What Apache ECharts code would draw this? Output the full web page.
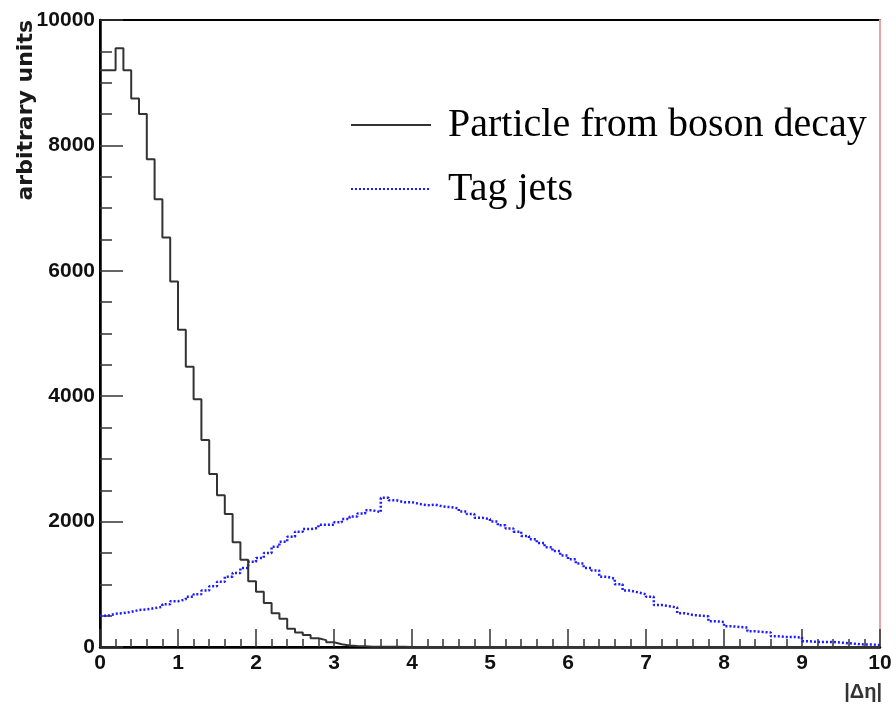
<!DOCTYPE html>
<html>
<head>
<meta charset="utf-8">
<script src="https://cdn.jsdelivr.net/npm/echarts@6/dist/echarts.min.js"></script>
<style>html,body{margin:0;padding:0;background:#fff}#c{width:896px;height:704px}</style>
</head>
<body>
<div id="c"></div>
<script>
// Histogram: 100 bins of width 0.1 over |Δη| from 0 to 10
const binStart = 0;
const binWidth = 0.1;
const seriesNames = ['Particle from boson decay', 'Tag jets'];
const xTickLabels = ['0','1','2','3','4','5','6','7','8','9','10'];
const yTickLabels = ['0','2000','4000','6000','8000','10000'];

const bosonDecay = [
  9200, 9200, 9550, 9200, 8750, 8500, 7780, 7140, 6530, 5830,
  5060, 4470, 3950, 3300, 2760, 2420, 2120, 1670, 1390, 1050,
  880, 700, 540, 450, 290, 230, 190, 140, 110, 75,
  45, 25, 15, 10, 5, 4, 3, 2, 2, 1,
  1, 1, 0, 0, 0, 0, 0, 0, 0, 0,
  0, 0, 0, 0, 0, 0, 0, 0, 0, 0,
  0, 0, 0, 0, 0, 0, 0, 0, 0, 0,
  0, 0, 0, 0, 0, 0, 0, 0, 0, 0,
  0, 0, 0, 0, 0, 0, 0, 0, 0, 0,
  0, 0, 0, 0, 0, 0, 0, 0, 0, 0
];

const tagJets = [
  500, 530, 540, 560, 590, 600, 620, 640, 680, 730,
  760, 800, 840, 900, 970, 1040, 1120, 1180, 1260, 1360,
  1420, 1500, 1600, 1680, 1760, 1840, 1880, 1900, 1950, 1950,
  1990, 2040, 2080, 2130, 2180, 2150, 2380, 2340, 2310, 2310,
  2280, 2260, 2270, 2240, 2230, 2210, 2160, 2120, 2060, 2040,
  2000, 1940, 1890, 1840, 1770, 1720, 1660, 1590, 1530, 1460,
  1400, 1330, 1260, 1220, 1120, 1090, 1000, 900, 870, 840,
  800, 670, 650, 630, 540, 510, 500, 490, 410, 400,
  330, 320, 310, 250, 240, 230, 170, 160, 160, 150,
  90, 80, 80, 80, 70, 60, 50, 40, 40, 30
];

function toSteps(vals) {
  const pts = vals.map((v, i) => [+(binStart + i * binWidth).toFixed(2), v]);
  pts.push([+(binStart + vals.length * binWidth).toFixed(2), vals[vals.length - 1]]);
  return pts;
}

const labelFont = { fontFamily: 'Liberation Sans, Arial, sans-serif', fontWeight: 'bold', fontSize: 21, color: '#111' };

const chart = echarts.init(document.getElementById('c'), null, { renderer: 'canvas' });
chart.setOption({
  animation: false,
  backgroundColor: '#fff',
  grid: { left: 100, right: 16, top: 20, bottom: 57, containLabel: false, show: true, borderColor: '#000', borderWidth: 2, backgroundColor: 'transparent' },
  legend: {
    orient: 'vertical',
    left: 345,
    top: 100,
    itemWidth: 80,
    itemHeight: 14,
    itemGap: 24,
    data: seriesNames,
    itemStyle: { opacity: 0 },
    textStyle: { fontFamily: 'Liberation Serif, Times New Roman, serif', fontSize: 40, color: '#000', lineHeight: 40, padding: [0, 0, 0, 12] }
  },
  xAxis: [{
    type: 'value', min: 0, max: 10, interval: 1,
    axisLine: { show: true, onZero: false, lineStyle: { color: '#000', width: 2.5 } },
    axisTick: { show: true, inside: true, length: 18, lineStyle: { color: '#333', width: 1.5 } },
    minorTick: { show: true, splitNumber: 5, length: 8, lineStyle: { color: '#333', width: 1.5 } },
    splitLine: { show: false },
    axisLabel: Object.assign({ margin: 6, formatter: (v) => xTickLabels[Math.round(v)] ?? '' }, labelFont)
  }],
  yAxis: [{
    type: 'value', min: 0, max: 10000, interval: 2000,
    axisLine: { show: true, onZero: false, lineStyle: { color: '#000', width: 2.5 } },
    axisTick: { show: true, inside: true, length: 23, lineStyle: { color: '#333', width: 1.5 } },
    minorTick: { show: true, splitNumber: 4, length: 12, lineStyle: { color: '#333', width: 1.5 } },
    splitLine: { show: false },
    axisLabel: Object.assign({ margin: 5, formatter: (v) => yTickLabels[Math.round(v / 2000)] ?? '' }, labelFont)
  }, {
    type: 'value', min: 0, max: 10000, position: 'right',
    axisLine: { show: true, onZero: false, lineStyle: { color: '#e6a3a3', width: 2 } },
    axisTick: { show: false }, axisLabel: { show: false }, splitLine: { show: false }
  }],
  series: [{
    name: seriesNames[0],
    type: 'line',
    step: 'end',
    symbol: 'none',
    color: '#333',
    lineStyle: { color: '#333', width: 2 },
    data: toSteps(bosonDecay),
    z: 3
  }, {
    name: seriesNames[1],
    type: 'line',
    step: 'end',
    symbol: 'none',
    color: '#1a1aff',
    lineStyle: { color: '#1a1aff', width: 2.5, type: [2, 2] },
    data: toSteps(tagJets),
    z: 2
  }],
  graphic: [{
    type: 'text',
    x: 37, y: 20,
    rotation: Math.PI / 2,
    style: { text: 'arbitrary units', align: 'right', verticalAlign: 'bottom', font: 'bold 22px "DejaVu Sans", sans-serif', fill: '#1a1a1a' }
  }, {
    type: 'text',
    x: 882, y: 692,
    style: { text: '|Δη|', align: 'right', verticalAlign: 'middle', font: 'bold 20px "Liberation Sans", Arial, sans-serif', fill: '#333' }
  }]
});
</script>
</body>
</html>
